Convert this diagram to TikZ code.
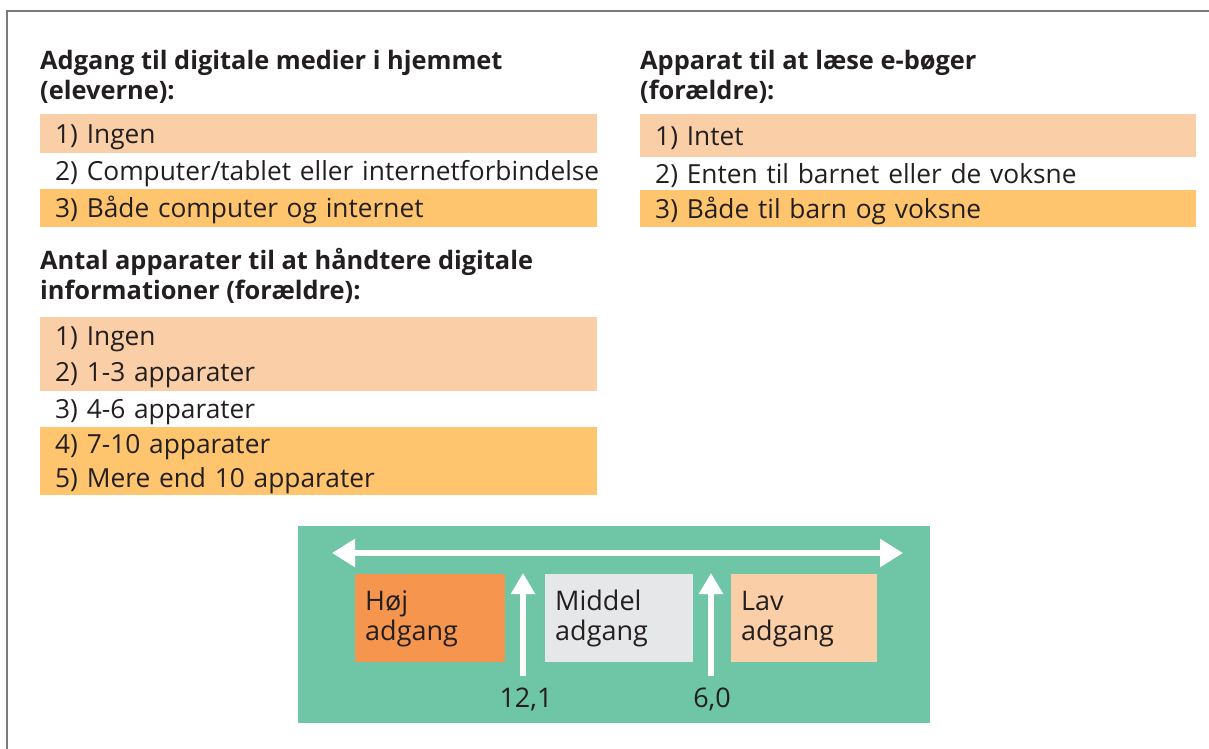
\documentclass[tikz,border=0pt]{standalone}
\usepackage{fontspec}
\setmainfont{Open Sans}
\usetikzlibrary{arrows.meta}
\definecolor{cPeach}{HTML}{FACFA8}
\definecolor{cGold}{HTML}{FEC56E}
\definecolor{cGreen}{HTML}{6FC6A6}
\definecolor{cHigh}{HTML}{F6964E}
\definecolor{cMid}{HTML}{E6E7E8}
\definecolor{cText}{HTML}{231F20}
\definecolor{cFrame}{HTML}{7A7A7A}
\tikzset{
  rowtxt/.style={font=\fontsize{26.3}{30}\selectfont, text=cText},
  band/.style={rowtxt, anchor=north west, inner xsep=15pt, inner ysep=0pt,
    align=left, text height=21pt, text depth=2pt},
  title/.style={anchor=base west, inner sep=0pt, align=left, text=cText,
    font=\fontsize{25.4}{30}\selectfont\bfseries},
  levelbox/.style={anchor=north west, minimum width=150pt, minimum height=88pt,
    inner xsep=10pt, inner ysep=0pt, align=left, text width=130pt, text=cText,
    font=\fontsize{27}{30}\selectfont, text height=4pt, text depth=20pt},
  whitearrow/.style={draw=white, line width=5.5pt},
  numlabel/.style={text=cText, font=\fontsize{27}{30}\selectfont, inner sep=0pt}
}
\begin{document}
\begin{tikzpicture}[x=1pt,y=-1pt]
\useasboundingbox (0,0) rectangle (1209,748);
% frame
\draw[cFrame, line width=2pt] (7,760) -- (7,11) -- (1220,11);

% ---------- left column, first block
\node[title] (t1) at (40,99) {Adgang til digitale medier i hjemmet\\(eleverne):};
\node[band, fill=cPeach, minimum height=39pt, text width=527pt] (a1) at (40,114) {1) Ingen};
\node[band, minimum height=36pt, text width=527pt] (a2) at (40,153) {\mbox{2) Computer/tablet eller internetforbindelse}};
\node[band, fill=cGold, minimum height=38pt, text width=527pt] (a3) at (40,189) {3) Både computer og internet};

% ---------- left column, second block
\node[title] (t2) at (40,299) {Antal apparater til at håndtere digitale\\informationer (forældre):};
\node[band, fill=cPeach, minimum height=37pt, text width=527pt] (b1) at (40,317) {1) Ingen};
\node[band, fill=cPeach, minimum height=37pt, text width=527pt] (b2) at (40,353.5) {2) 1-3 apparater};
\node[band, minimum height=36pt, text width=527pt] (b3) at (40,390.5) {3) 4-6 apparater};
\node[band, fill=cGold, minimum height=34.5pt, text width=527pt] (b4) at (40,426.5) {4) 7-10 apparater};
\node[band, fill=cGold, minimum height=34.5pt, text width=527pt] (b5) at (40,460.5) {5) Mere end 10 apparater};

% ---------- right column
\node[title] (t3) at (640,99) {Apparat til at læse e-bøger\\(forældre):};
\node[band, fill=cPeach, minimum height=43pt, text width=526pt] (c1) at (640,114) {1) Intet};
\node[band, minimum height=33pt, text width=526pt] (c2) at (640,157) {2) Enten til barnet eller de voksne};
\node[band, fill=cGold, minimum height=37pt, text width=526pt] (c3) at (640,190) {3) Både til barn og voksne};

% ---------- green panel
\node[fill=cGreen, anchor=north west, minimum width=632pt, minimum height=197pt, inner sep=0pt] (panel) at (298,526) {};
\node[levelbox, fill=cHigh] (hoj) at (355,574) {Høj\\adgang};
\node[levelbox, fill=cMid, minimum width=148pt, text width=128pt] (mid) at (545,574) {Middel\\adgang};
\node[levelbox, fill=cPeach, minimum width=146pt, text width=126pt] (lav) at (731,574) {Lav\\adgang};

\coordinate (hl) at (332,553);
\coordinate (hr) at (903,553);
\draw[whitearrow, {Triangle[length=23pt,width=27pt]}-{Triangle[length=23pt,width=27pt]}] (hl) -- (hr);

\coordinate (u1b) at (523,676);
\coordinate (u1t) at (523,573);
\coordinate (u2b) at (711,676);
\coordinate (u2t) at (711,573);
\draw[whitearrow, -{Triangle[length=21pt,width=23pt]}] (u1b) -- (u1t);
\draw[whitearrow, -{Triangle[length=21pt,width=23pt]}] (u2b) -- (u2t);

\node[numlabel, anchor=base] (n1) at (526,707) {12,1};
\node[numlabel, anchor=base] (n2) at (712,707) {6,0};
\end{tikzpicture}
\end{document}
